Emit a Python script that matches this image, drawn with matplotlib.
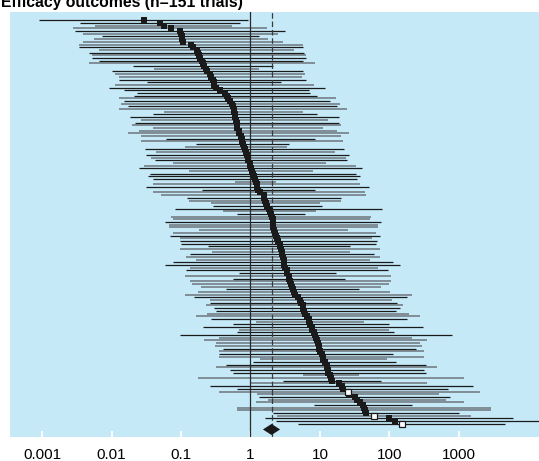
import numpy as np
import matplotlib
matplotlib.use("Agg")
import matplotlib.pyplot as plt

# point estimates and 95% CI, log10 scale, sorted top -> bottom (151 trials)
pt_log = [-1.53, -1.30, -1.24, -1.15, -1.01, -1.00, -0.99, -0.98, -0.97, -0.85,
          -0.83, -0.77, -0.76, -0.74, -0.73, -0.70, -0.69, -0.67, -0.64, -0.62,
          -0.59, -0.57, -0.54, -0.52, -0.52,
          -0.49, -0.44, -0.37, -0.34, -0.32, -0.29, -0.27, -0.25, -0.24, -0.24,
          -0.23, -0.22, -0.21, -0.20, -0.19, -0.19, -0.17, -0.16, -0.14, -0.12,
          -0.12, -0.11, -0.09, -0.08, -0.07, -0.05,
          -0.04, -0.03, -0.01, 0.00, 0.01, 0.02, 0.03, 0.05, 0.07, 0.08,
          0.09, 0.10, 0.11, 0.13, 0.19, 0.20, 0.21, 0.22, 0.24, 0.27,
          0.28, 0.29, 0.31, 0.32, 0.32, 0.33,
          0.33, 0.34, 0.36, 0.37, 0.38, 0.40, 0.42, 0.43, 0.44, 0.45,
          0.46, 0.47, 0.48, 0.48, 0.49, 0.50, 0.52, 0.53, 0.55, 0.56,
          0.57, 0.59, 0.60, 0.61, 0.62, 0.64,
          0.69, 0.72, 0.73, 0.75, 0.76, 0.77, 0.79, 0.81, 0.84, 0.85,
          0.86, 0.88, 0.89, 0.92, 0.93, 0.95, 0.96, 0.97, 0.98, 0.99,
          1.00, 1.03, 1.04, 1.05, 1.08, 1.10,
          1.10, 1.11, 1.12, 1.15, 1.16, 1.17, 1.27, 1.32, 1.33, 1.41,
          1.42, 1.51, 1.53, 1.58, 1.62, 1.63, 1.65, 1.67, 1.78, 2.00,
          2.08, 2.19]

lo_log = [-3.05, -2.46, -2.24, -2.56, -2.53, -2.41, -2.14, -2.26, -2.41, -2.47,
          -2.47, -2.18, -2.33, -2.29, -2.29, -2.18, -2.33, -1.69, -1.39, -1.99,
          -1.95, -1.89, -1.89, -1.49, -1.95,
          -2.04, -1.82, -1.64, -1.68, -1.90, -1.82, -1.87, -1.77, -1.90, -1.25,
          -1.41, -1.73, -1.58, -1.67, -1.70, -1.41, -1.60, -1.76, -1.58, -1.22,
          -1.58, -0.78, -0.94, -1.52, -1.36, -1.51,
          -1.44, -1.38, -1.11, -1.53, -1.61, -0.88, -1.45, -1.47, -1.40, -0.22,
          -1.40, -1.51, -0.70, -1.40, -1.29, -0.91, -0.89, -0.57, -0.54, -1.09,
          -0.40, -0.20, -1.14, -1.12, -1.23, -1.18,
          -1.18, -0.74, -1.12, -1.16, -1.01, -1.01, -1.00, -0.61, -1.01, -0.56,
          -0.87, -0.93, -0.78, -1.12, -1.23, -0.87, -0.93, -0.17, -0.95, -0.25,
          -0.87, -0.84, -0.72, -0.36, -0.76, -0.95,
          -0.82, -0.59, -0.59, -0.64, -0.53, -0.49, -0.63, -0.78, -0.57, 0.08,
          -0.25, -0.68, -0.17, -0.20, -1.02, -0.46, -0.67, -0.49, -0.51, -0.40,
          -0.46, -0.45, -0.45, 0.13, 0.03, -0.36,
          -0.49, -0.30, -0.25, 0.75, -0.76, 0.47, 0.00, -0.59, -0.20, -0.46,
          0.10, 0.12, 0.25, 0.08, 0.92, -0.20, -0.20, 0.32, 0.38, 0.21,
          0.37, 0.68]

hi_log = [-0.03, -0.15, -0.26, 0.24, 0.50, 0.39, 0.12, 0.25, 0.47, 0.76,
          0.76, 0.62, 0.77, 0.80, 0.80, 0.76, 0.93, 0.33, 0.12, 0.76,
          0.79, 0.74, 0.80, 0.44, 0.91,
          1.08, 0.85, 0.86, 0.96, 1.23, 1.15, 1.29, 1.24, 1.39, 0.75,
          0.96, 1.28, 1.12, 1.27, 1.30, 1.04, 1.25, 1.42, 1.30, 0.93,
          1.33, 0.55, 0.53, 1.35, 1.22, 1.42,
          1.38, 1.39, 1.09, 1.52, 1.60, 0.90, 1.52, 1.58, 1.54, 0.37,
          1.58, 1.71, 0.93, 1.65, 1.67, 1.31, 1.30, 1.00, 1.03, 1.89,
          0.95, 0.79, 1.73, 1.72, 1.88, 1.84,
          1.84, 1.40, 1.81, 1.86, 1.75, 1.82, 1.81, 1.44, 1.86, 1.44,
          1.78, 1.86, 1.72, 2.05, 2.16, 1.84, 1.98, 1.23, 2.03, 1.36,
          2.03, 1.99, 1.88, 1.56, 2.01, 2.33,
          2.25, 2.04, 2.11, 2.20, 2.16, 2.10, 2.28, 2.44, 2.25, 1.64,
          1.99, 2.49, 1.99, 2.07, 2.90, 2.32, 2.54, 2.44, 2.47, 2.39,
          2.50, 2.06, 2.50, 1.97, 2.10, 2.53,
          2.69, 2.50, 2.53, 1.56, 3.07, 1.88, 2.55, 3.20, 2.85, 3.30,
          2.72, 2.88, 2.81, 3.07, 2.32, 3.46, 3.46, 3.01, 3.18, 3.78,
          4.20, 3.67]

# k = black CI line, g = grey CI line
line_shade = ("kkggkgkgggkgkgkkgkgkggkkg"
              "kkkkgkgkggkkgkgggggkgkgkgk"
              "gkggkgkkkggkkggkggkkgkggk"
              "ggggkgkkkggkggkkgkkgkgggk"
              "ggkgkgkkggkgkkgkkggggkgkgg"
              "kkgkkggkgkkggkggkggkgk")

open_rows = [138, 147, 150]

pooled = 2.01
pooled_lo = 1.51
pooled_hi = 2.67

tick_vals = [0.001, 0.01, 0.1, 1, 10, 100, 1000]
tick_labels = ["0.001", "0.01", "0.1", "1", "10", "100", "1000"]

n = len(pt_log)
est = 10 ** np.array(pt_log)
lo = 10 ** np.array(lo_log)
hi = 10 ** np.array(hi_log)
rows = np.arange(n)
shade = np.array(list(line_shade.ljust(n, "k")[:n]))

fig = plt.figure(figsize=(5.39, 4.61), dpi=100)
ax = fig.add_axes([10 / 539, 24 / 461, 529 / 539, 425 / 461])
ax.set_facecolor("#c6e9f8")
ax.set_xscale("log")

grey = "#7a878e"
g = shade == "g"
ax.hlines(rows[g], lo[g], hi[g], color=grey, lw=1.3, zorder=2)
ax.hlines(rows[~g], lo[~g], hi[~g], color="#1a1a1a", lw=0.9, zorder=2)

ax.axvline(1, color="#2a2a2a", lw=0.9, zorder=3)
ax.axvline(pooled, color="#3a3a3a", lw=0.9, dashes=(4.5, 2.2), zorder=3)

filled = np.array([i not in open_rows for i in rows])
ax.plot(est[filled], rows[filled], "s", color="#1a1a1a", ms=4.0, mew=0, zorder=4)
ax.plot(est[~filled], rows[~filled], "s", mfc="white", mec="#1a1a1a", ms=4.0, mew=0.9, zorder=4)

yd = n + 1.1
ax.fill([pooled_lo, pooled, pooled_hi, pooled], [yd, yd - 2.05, yd, yd + 2.05],
        color="#1a1a1a", lw=0, zorder=5)

ax.set_xlim(10 ** -3.465, 10 ** 4.157)
ax.set_ylim(n + 3.9, -3.1)
ax.set_yticks([])
ax.set_xticks(tick_vals)
ax.set_xticklabels(tick_labels)
ax.minorticks_off()
ax.tick_params(axis="x", direction="in", color="white", length=4, width=1.3,
               labelsize=11, pad=8)
for lab in ax.get_xticklabels():
    lab.set_family(["Liberation Sans", "DejaVu Sans"])
for sp in ax.spines.values():
    sp.set_visible(False)

fig.text(0.002, 1 - 7.5 / 461, "Efficacy outcomes (n=151 trials)", va="baseline", ha="left",
         fontsize=11.3, fontweight="bold", family=["Liberation Sans", "DejaVu Sans"])

fig.savefig("out.png", dpi=100)
